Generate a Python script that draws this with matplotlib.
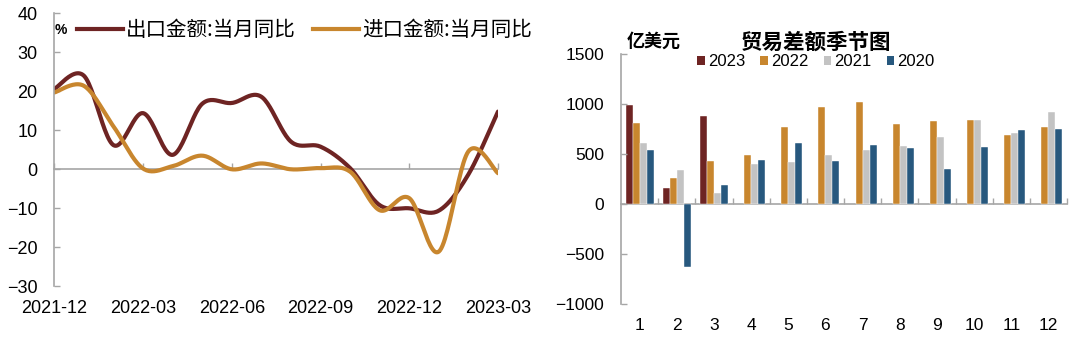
import numpy as np
import matplotlib
matplotlib.use("Agg")
import matplotlib.pyplot as plt
from matplotlib.patches import Patch
from matplotlib.lines import Line2D

plt.rcParams['font.family'] = ['Liberation Sans', 'Noto Sans CJK SC', 'DejaVu Sans']
plt.rcParams['axes.unicode_minus'] = True
CJK = ['Noto Sans CJK SC', 'DejaVu Sans']

# ---------------- data ----------------
months = ['2021-12', '2022-01', '2022-02', '2022-03', '2022-04', '2022-05', '2022-06',
          '2022-07', '2022-08', '2022-09', '2022-10', '2022-11', '2022-12',
          '2023-01', '2023-02', '2023-03']
export_yoy = [20.6, 24.0, 6.2, 14.4, 3.7, 16.8, 17.0, 18.6, 7.1, 5.8, 0.3,
              -9.2, -10.0, -10.6, -1.3, 14.8]
import_yoy = [19.7, 21.4, 11.0, 0.2, 0.8, 3.5, 0.0, 1.5, 0.0, 0.3, -0.6,
              -10.5, -7.4, -21.1, 4.6, -1.0]
xtick_labels = ['2021-12', '2022-03', '2022-06', '2022-09', '2022-12', '2023-03']

cal_months = ['1', '2', '3', '4', '5', '6', '7', '8', '9', '10', '11', '12']
bal_2023 = [995, 164, 880, np.nan, np.nan, np.nan, np.nan, np.nan, np.nan, np.nan, np.nan, np.nan]
bal_2022 = [813, 268, 435, 489, 776, 970, 1021, 803, 833, 843, 689, 773]
bal_2021 = [609, 345, 110, 401, 421, 489, 542, 582, 672, 843, 709, 927]
bal_2020 = [539, -626, 197, 445, 609, 438, 596, 565, 351, 572, 743, 750]
years = ['2023', '2022', '2021', '2020']

C_EXP = '#6E2423'
C_IMP = '#C8862E'
C_GRAY = '#C3C3C3'
C_BLUE = '#27587E'
C_AX = '#A6A6A6'


def smooth(y, n=24):
    """Excel-like smoothed line through the monthly points (Bezier segments)."""
    x = np.arange(len(y), dtype=float)
    y = np.asarray(y, dtype=float)
    P = np.column_stack([x, y])
    out = []
    for i in range(len(P) - 1):
        p0 = P[i - 1] if i > 0 else P[i]
        p1 = P[i]
        p2 = P[i + 1]
        p3 = P[i + 2] if i + 2 < len(P) else P[i + 1]
        c1 = p1 + (p2 - p0) / 6.0
        c2 = p2 - (p3 - p1) / 6.0
        t = np.linspace(0, 1, n, endpoint=(i == len(P) - 2))[:, None]
        seg = ((1 - t) ** 3) * p1 + 3 * ((1 - t) ** 2) * t * c1 + 3 * (1 - t) * t ** 2 * c2 + t ** 3 * p2
        out.append(seg)
    out = np.vstack(out)
    return out[:, 0], out[:, 1]


fig = plt.figure(figsize=(10.8, 3.41), dpi=100)

# ---------------- left: line chart ----------------
axL = fig.add_axes([54.3 / 1080, 1 - 286.3 / 341, (498 - 54.3) / 1080, (286.3 - 13.3) / 341])
xs, ys = smooth(export_yoy)
axL.plot(xs, ys, color=C_EXP, lw=3.0, solid_capstyle='round')
xs, ys = smooth(import_yoy)
axL.plot(xs, ys, color=C_IMP, lw=3.0, solid_capstyle='round')

axL.set_xlim(0, len(months) - 1)
axL.set_ylim(-30, 40)
axL.set_yticks(np.arange(-30, 41, 10))
tick_pos = [months.index(m) for m in xtick_labels]
axL.set_xticks(tick_pos)
axL.set_xticklabels(xtick_labels)
axL.tick_params(axis='x', length=0, pad=10, labelsize=13)
axL.tick_params(axis='y', direction='in', length=4, width=1, color=C_AX, pad=12, labelsize=13)
for s in ['top', 'right', 'bottom']:
    axL.spines[s].set_visible(False)
axL.spines['left'].set_color(C_AX)
axL.spines['left'].set_linewidth(1.2)
secL = axL.secondary_xaxis(0, transform=axL.transData)
secL.set_xticks(tick_pos)
secL.set_xticklabels([])
secL.tick_params(direction='in', length=4, width=1, color=C_AX)
for s in secL.spines.values():
    s.set_color(C_AX)
    s.set_linewidth(1.2)

fig.text(55 / 1080, 1 - 30 / 341, '%', fontsize=10, fontweight='bold', va='center', ha='left')
handles = [Line2D([], [], color=C_EXP, lw=3.0), Line2D([], [], color=C_IMP, lw=3.0)]
fig.legend(handles, ['出口金额:当月同比', '进口金额:当月同比'], loc='center left',
           bbox_to_anchor=(77 / 1080, 1 - 30 / 341), ncol=2, frameon=False,
           borderpad=0, borderaxespad=0, handlelength=2.25, handletextpad=0.15,
           columnspacing=0.8, prop={'family': CJK, 'size': 14.8})

# ---------------- right: bar chart ----------------
axR = fig.add_axes([621 / 1080, 1 - 304.3 / 341, (1067 - 621) / 1080, (304.3 - 54.3) / 341])
x = np.arange(len(cal_months))
w = 0.1875
series = [bal_2023, bal_2022, bal_2021, bal_2020]
colors = [C_EXP, C_IMP, C_GRAY, C_BLUE]
for k, (vals, col) in enumerate(zip(series, colors)):
    axR.bar(x + (k - 1.5) * w, vals, width=w, color=col, edgecolor='white', linewidth=0.3)

axR.set_xlim(-0.5, 11.5)
axR.set_ylim(-1000, 1500)
axR.set_yticks(np.arange(-1000, 1501, 500))
axR.set_xticks(x)
axR.set_xticklabels(cal_months)
axR.tick_params(axis='x', length=0, pad=10, labelsize=12.5)
axR.tick_params(axis='y', direction='in', length=4, width=1, color=C_AX, pad=12, labelsize=12.5)
for s in ['top', 'right', 'bottom']:
    axR.spines[s].set_visible(False)
axR.spines['left'].set_color(C_AX)
axR.spines['left'].set_linewidth(1.2)
secR = axR.secondary_xaxis(0, transform=axR.transData)
secR.set_xticks(x + 0.5)
secR.set_xticklabels([])
secR.tick_params(direction='in', length=4, width=1, color=C_AX)
for s in secR.spines.values():
    s.set_color(C_AX)
    s.set_linewidth(1.2)

fig.text(654 / 1080, 1 - 41 / 341, '亿美元', family=CJK, fontsize=13, fontweight='bold',
         ha='center', va='center')
fig.text(816 / 1080, 1 - 42 / 341, '贸易差额季节图', family=CJK, fontsize=15.5, fontweight='bold',
         ha='center', va='center')
bh = [Patch(facecolor=c, edgecolor='none') for c in colors]
fig.legend(bh, years, loc='center', bbox_to_anchor=(816 / 1080, 1 - 61.7 / 341), ncol=4,
           frameon=False, borderpad=0, borderaxespad=0, handlelength=0.45, handleheight=0.45,
           handletextpad=0.2, columnspacing=0.9, fontsize=12)

fig.savefig('out.png', dpi=100)
